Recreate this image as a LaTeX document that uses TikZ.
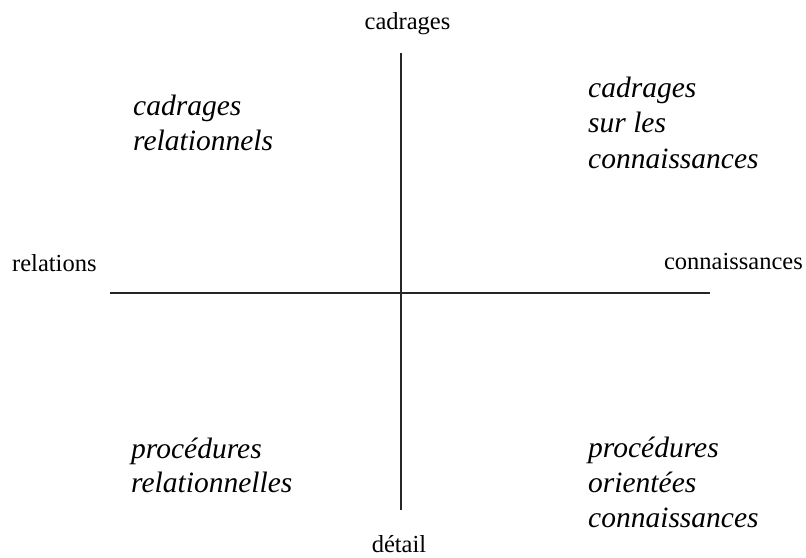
\documentclass[tikz,border=0pt]{standalone}
\usepackage{fontspec}
\setmainfont{Liberation Serif}[ItalicFont={Liberation Serif Italic}]
\begin{document}
\begin{tikzpicture}[x=1pt,y=-1pt,
  axislabel/.style={inner sep=0pt,font=\fontsize{24.5}{29}\selectfont},
  quad/.style={inner sep=0pt,anchor=base west,font=\fontsize{29.5}{35}\selectfont\itshape},
  axisline/.style={line width=2pt,draw=black!85}]
\useasboundingbox (0,0) rectangle (806,557);
% axes
\coordinate (top) at (401,53);
\coordinate (bot) at (401,510);
\coordinate (lft) at (110,292.5);
\coordinate (rgt) at (710,292.5);
\draw[axisline] (top) -- (bot);
\draw[axisline] (lft) -- (rgt);
% axis labels
\node[axislabel,anchor=base] (ncad) at (407.5,29) {cadrages};
\node[axislabel,anchor=base] (ndet) at (399,552) {détail};
\node[axislabel,anchor=base west] (nrel) at (12,271) {relations};
\node[axislabel,anchor=base east] (ncon) at (803,269) {connaissances};
% quadrants
\node[quad] (tl1) at (133,115) {cadrages};
\node[quad] (tl2) at (133,150) {relationnels};
\node[quad] (tr1) at (588,97) {cadrages};
\node[quad] (tr2) at (588,132) {sur les};
\node[quad] (tr3) at (588,168) {connaissances};
\node[quad] (bl1) at (131,458) {procédures};
\node[quad] (bl2) at (131,492) {relationnelles};
\node[quad] (br1) at (588,457) {procédures};
\node[quad] (br2) at (588,492) {orientées};
\node[quad] (br3) at (588,527) {connaissances};
\end{tikzpicture}
\end{document}
